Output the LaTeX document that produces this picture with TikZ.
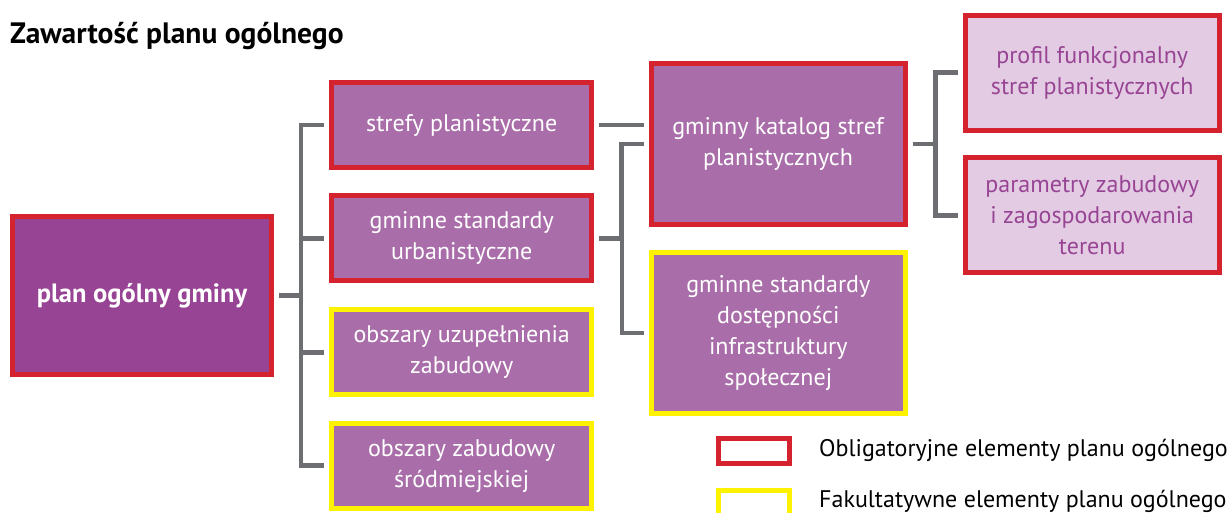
\documentclass[tikz,border=0pt]{standalone}
\usepackage{fontspec}
\setmainfont{PT Sans}
\definecolor{plumdark}{HTML}{984494}
\definecolor{plum}{HTML}{A96EA9}
\definecolor{plumlight}{HTML}{E3CCE3}
\definecolor{oblred}{HTML}{D4222E}
\definecolor{fakyellow}{HTML}{FFF200}
\definecolor{linegray}{HTML}{6D6E71}

\begin{document}
\begin{tikzpicture}
  [x=1pt,y=-1pt,
   every node/.style={inner sep=0pt,align=center,font=\fontsize{24}{31}\selectfont},
   box/.style={rectangle,line width=5pt,fill=plum,text=white,minimum width=260pt,minimum height=85pt},
   obl/.style={draw=oblred},
   fak/.style={draw=fakyellow},
   pale/.style={fill=plumlight,text=plumdark},
   conn/.style={draw=linegray,line width=4.5pt,shorten <=5pt,shorten >=5pt}]
  \useasboundingbox (0,0) rectangle (1231,512);
  \clip (0,0) rectangle (1231,512);
  \node[anchor=base west,font=\bfseries\fontsize{29.5}{32}\selectfont] (title) at (10,43) {Zawartość planu ogólnego};
  \node[box,obl,fill=plumdark,minimum width=259pt,minimum height=158pt,font=\bfseries\fontsize{26.5}{31}\selectfont] (plan) at (142,295.5) {plan ogólny gminy};
  \node[box,obl] (strefy) at (461.7,125) {strefy planistyczne};
  \node[box,obl] (urb) at (461.7,238.3) {gminne standardy\\urbanistyczne};
  \node[box,fak] (uzup) at (461.7,352.3) {obszary uzupełnienia\\zabudowy};
  \node[box,fak] (srod) at (461.7,465.7) {obszary zabudowy\\śródmiejskiej};
  \node[box,obl,minimum width=254pt,minimum height=161pt] (katalog) at (778,143.8) {gminny katalog stref\\planistycznych};
  \node[box,fak,minimum width=254pt,minimum height=161pt] (dost) at (778.3,333) {gminne standardy\\dostępności\\infrastruktury\\społecznej};
  \node[box,obl,pale,minimum width=254pt,minimum height=115pt] (profil) at (1092.2,72.7) {profil funkcjonalny\\stref planistycznych};
  \node[box,obl,pale,minimum width=254pt,minimum height=115pt] (param) at (1092.2,215.3) {parametry zabudowy\\i zagospodarowania\\terenu};
  % legend
  \node[rectangle,line width=5pt,obl,fill=white,minimum width=71pt,minimum height=25pt] (legobl) at (754,450.7) {};
  \node[rectangle,line width=5pt,fak,fill=white,minimum width=71pt,minimum height=25pt] (legfak) at (754,503.3) {};
  \node[anchor=west] (legobltxt) at (819,450) {Obligatoryjne elementy planu ogólnego};
  \node[anchor=west] (legfaktxt) at (819,501) {Fakultatywne elementy planu ogólnego};
  % connectors
  \foreach \from/\to/\d in {plan/strefy/28,plan/urb/28,plan/uzup/28,plan/srod/28,urb/katalog/27,urb/dost/27,katalog/profil/27,katalog/param/27}
    \draw[conn] (\from.east) -| ([xshift=-\d pt]\to.west) -- (\to.west);
  \draw[conn] (strefy.east) -- (strefy.east -| katalog.west);
\end{tikzpicture}
\end{document}
